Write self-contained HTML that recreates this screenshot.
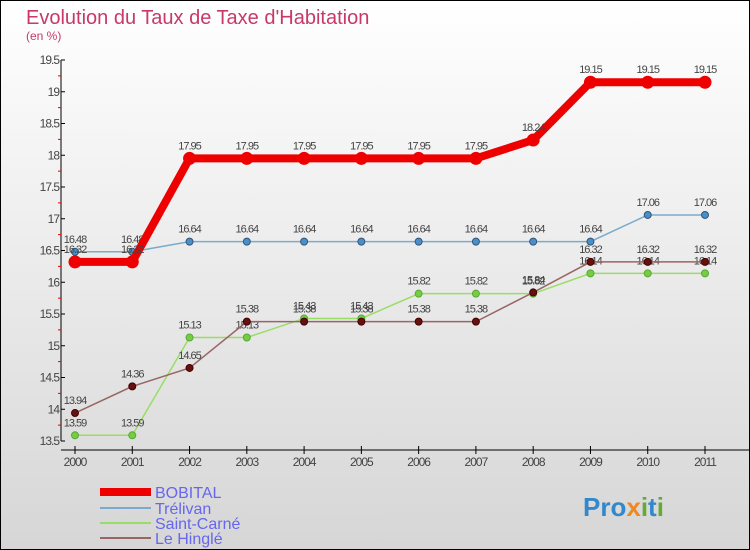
<!DOCTYPE html>
<html><head><meta charset="utf-8"><style>
body{margin:0}
#c{width:750px;height:550px;position:relative;box-sizing:border-box;border:1px solid #000;background:linear-gradient(#fff,#d6d6d6);font-family:"Liberation Sans",sans-serif;overflow:hidden}
</style></head><body>
<div id="c">
<svg id="s" width="750" height="550" style="position:absolute;left:-1px;top:-1px">
<text x="26" y="24" font-size="20" fill="#c8386a">Evolution du Taux de Taxe d'Habitation</text>
<text x="26" y="40" font-size="12" fill="#c8386a">(en %)</text>
<g id="axes"></g><g id="series"></g>
<g font-size="16" fill="#6666ee">
<rect x="100" y="488" width="51" height="8" fill="#e00"/>
<text x="155" y="498">BOBITAL</text>
<rect x="100" y="507" width="51" height="2" fill="#7aabcc"/>
<text x="155" y="514">Trélivan</text>
<rect x="100" y="522" width="51" height="2" fill="#99dd66"/>
<text x="155" y="529">Saint-Carné</text>
<rect x="100" y="537" width="51" height="2" fill="#996666"/>
<text x="155" y="544">Le Hinglé</text>
</g>
<text x="583" y="516" font-size="26" font-weight="bold" fill="#3388cc">Pro<tspan fill="#ee8822">x</tspan><tspan fill="#66aa33">i</tspan>t<tspan fill="#66aa33">i</tspan></text>
</svg>
</div>
<script>
const years=[2000,2001,2002,2003,2004,2005,2006,2007,2008,2009,2010,2011];
const yTicks=[13.5,14,14.5,15,15.5,16,16.5,17,17.5,18,18.5,19,19.5];
const bobital=[16.32,16.32,17.95,17.95,17.95,17.95,17.95,17.95,18.24,19.15,19.15,19.15];
const trelivan=[16.48,16.48,16.64,16.64,16.64,16.64,16.64,16.64,16.64,16.64,17.06,17.06];
const saintCarne=[13.59,13.59,15.13,15.13,15.43,15.43,15.82,15.82,15.82,16.14,16.14,16.14];
const leHingle=[13.94,14.36,14.65,15.38,15.38,15.38,15.38,15.38,15.84,16.32,16.32,16.32];
const NS="http://www.w3.org/2000/svg";
const xs=i=>75+i*(630/11);
const ys=v=>441-(v-13.5)*63.5;
function mk(t,a,p){const e=document.createElementNS(NS,t);for(const k in a)e.setAttribute(k,a[k]);p.appendChild(e);return e;}
const ax=document.getElementById('axes');
const yl=mk('line',{x1:61,y1:60,x2:61,y2:441,stroke:'#000'},ax);


const xl=mk('line',{x1:61,y1:450,x2:750,y2:450,stroke:'#000'},ax);


yTicks.forEach((v,i)=>{
  mk('line',{x1:61,x2:65,y1:ys(v),y2:ys(v),stroke:'#000'},ax);
  if(i<yTicks.length-1)mk('line',{x1:58,x2:61,y1:ys(v+0.25),y2:ys(v+0.25),stroke:'#e00'},ax);
  const t=mk('text',{x:59,y:ys(v)+4,'text-anchor':'end','font-size':12,fill:'#444','letter-spacing':'-1'},ax);
  t.textContent=String(v);
  
  
});
years.forEach((y,i)=>{
  mk('line',{x1:xs(i),x2:xs(i),y1:446,y2:454,stroke:'#000'},ax);
  const t=mk('text',{x:xs(i),y:466,'text-anchor':'middle','font-size':12,fill:'#444','letter-spacing':'-1'},ax);
  t.textContent=y;
  
  
});
const sg=document.getElementById('series');
function series(data,name,col,w,r,dot,stroke2){
  const g=mk('g',{},sg);
  
  
  mk('polyline',{points:data.map((v,i)=>xs(i)+','+ys(v)).join(' '),fill:'none',stroke:col,'stroke-width':w},g);
  data.forEach((v,i)=>{
    const c=mk('circle',{cx:xs(i),cy:ys(v),r:r,fill:dot,stroke:stroke2,'stroke-width':1},g);
    
    
    const t=mk('text',{x:xs(i),y:ys(v)-9,'text-anchor':'middle','font-size':11,fill:'#444','letter-spacing':'-1'},g);
    t.textContent=v;
    
    
  });
}
series(trelivan,'trelivan','#7aabcc',1.5,3.5,'#4a90c8','#357');
series(saintCarne,'saint-carne','#99dd66',1.5,3.5,'#77cc44','#5a3');
series(leHingle,'le-hingle','#996666',1.5,3.5,'#661111','#400');
series(bobital,'bobital','#ee0000',8,6,'#ee0000','#e00');
</script>
</body></html>
